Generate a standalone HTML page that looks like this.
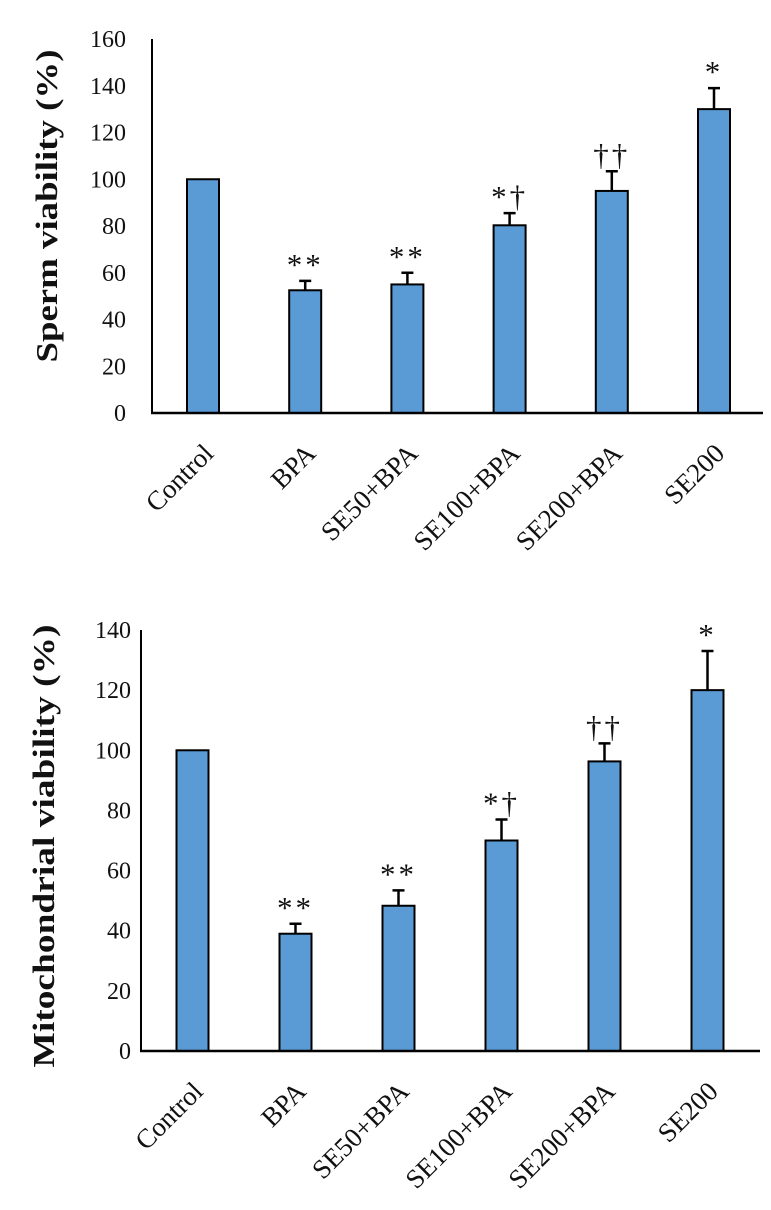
<!DOCTYPE html>
<html><head><meta charset="utf-8"><style>
html,body{margin:0;padding:0;background:#fff;}
svg{display:block;font-family:"Liberation Serif",serif;}
</style></head><body>
<svg id="chart" width="771" height="1210" viewBox="0 0 771 1210"></svg>
<script>
const categories = ["Control","BPA","SE50+BPA","SE100+BPA","SE200+BPA","SE200"];
const spermValues = [100, 52.5, 55, 80.3, 95, 130];
const spermErrors = [0, 4, 5, 5.2, 8.4, 9];
const spermMarks = ["", "**", "**", "*†", "††", "*"];
const spermTicks = [0,20,40,60,80,100,120,140,160];
const mitoValues = [100, 39, 48.3, 70, 96.3, 120];
const mitoErrors = [0, 3.3, 5.1, 7, 6, 13];
const mitoMarks = ["", "**", "**", "*†", "††", "*"];
const mitoTicks = [0,20,40,60,80,100,120,140];

const NS = "http://www.w3.org/2000/svg";
const svg = document.getElementById("chart");
function mk(tag, attrs, parent){
  const e = document.createElementNS(NS, tag);
  for (const k in attrs) e.setAttribute(k, attrs[k]);
  (parent||svg).appendChild(e);
  return e;
}

function drawChart(cfg){
  const g = mk("g", {});
  
  
  const y = v => cfg.y0 - (v - 0) / cfg.max * (cfg.y0 - cfg.yTop);
  const x = i => cfg.x0 + i * cfg.step;
  const ya = mk("line", {x1:cfg.axisX, y1:cfg.yTop, x2:cfg.axisX, y2:cfg.y0, stroke:"#000", "stroke-width":2}, g);
  
  
  cfg.ticks.forEach(t => {
    const tl = mk("text", {x:cfg.tickX, y:y(t)+8, "text-anchor":"end", "font-size":24, fill:"#111"}, g);
    tl.textContent = t;
    
    
  });
  const tt = mk("text", {x:0, y:0, "text-anchor":"middle", "font-size":cfg.titleSize, "font-weight":"bold", fill:"#111",
    transform:`translate(${cfg.titleX},${cfg.titleY}) rotate(-90)`, textLength:cfg.titleLen, lengthAdjust:"spacingAndGlyphs"}, g);
  tt.textContent = cfg.title;
  
  
  cfg.values.forEach((v, i) => {
    const cx = x(i), w = 32;
    if (cfg.errors[i] > 0) {
      const et = y(v + cfg.errors[i]);
      const el = mk("path", {d:`M${cx} ${y(v)} V${et} M${cx-6} ${et} H${cx+6}`, stroke:"#000", "stroke-width":2.5, fill:"none"}, g);
      
      
    }
    const r = mk("rect", {x:cx-w/2, y:y(v), width:w, height:cfg.y0 - y(v), fill:"#5b9bd5", stroke:"#000", "stroke-width":2}, g);
    
    
    if (cfg.marks[i]) {
      const mt = mk("text", {x:cx, y:y(v + cfg.errors[i]) - 6, "text-anchor":"middle", "font-size":31, fill:"#111", "letter-spacing":3}, g);
      mt.textContent = cfg.marks[i];
      
      
    }
    const xl = mk("text", {x:0, y:0, "text-anchor":"end", "font-size":27, fill:"#111",
      transform:`translate(${cx+12},${cfg.y0+42}) rotate(-45)`}, g);
    xl.textContent = categories[i];
    
    
  });
  const xa = mk("line", {x1:cfg.axisX-1, y1:cfg.y0, x2:cfg.axisEnd, y2:cfg.y0, stroke:"#000", "stroke-width":2.5}, g);
  
  
}

drawChart({name:"sperm-viability-chart", values:spermValues, errors:spermErrors, marks:spermMarks, ticks:spermTicks,
  max:160, y0:413, yTop:39, axisX:152, axisEnd:763, x0:203, step:102.2, tickX:126,
  title:"Sperm viability (%)", titleX:57, titleY:206, titleLen:313, titleSize:31});
drawChart({name:"mitochondrial-viability-chart", values:mitoValues, errors:mitoErrors, marks:mitoMarks, ticks:mitoTicks,
  max:140, y0:1051, yTop:630, axisX:141, axisEnd:760, x0:192.5, step:103, tickX:131,
  title:"Mitochondrial viability (%)", titleX:54, titleY:846, titleLen:443, titleSize:31});
</script>
</body></html>
